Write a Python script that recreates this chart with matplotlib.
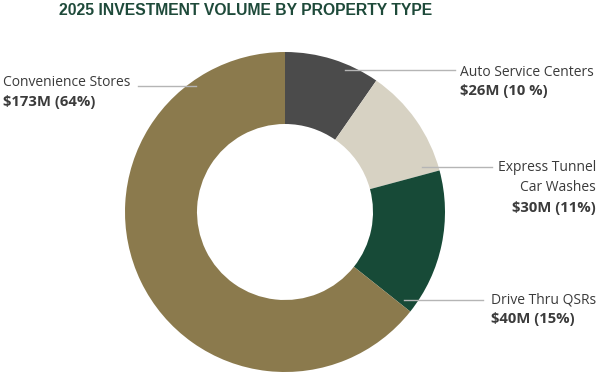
import matplotlib
matplotlib.use("Agg")
import matplotlib.pyplot as plt

# data
categories = ["Auto Service Centers", "Express Tunnel\nCar Washes", "Drive Thru QSRs", "Convenience Stores"]
volumes = [26, 30, 40, 173]          # $M
pct_labels = ["10 %", "11%", "15%", "64%"]
colors = ["#4b4b4b", "#d7d2c3", "#174a37", "#8b7a4d"]

W, H = 602, 372
fig = plt.figure(figsize=(W / 100, H / 100), dpi=100)
ax = fig.add_axes([0, 0, 1, 1])

def py(y):
    return H - y

cx, cy, R = 285, 212, 160
ax.pie(volumes, colors=colors, startangle=90, counterclock=False,
       center=(cx, py(cy)), radius=R, frame=True,
       wedgeprops=dict(width=72, linewidth=0))
ax.set_xlim(0, W)
ax.set_ylim(0, H)
ax.axis("off")

fig.text(246 / W, 1 - 10.5 / H, "2025 INVESTMENT VOLUME BY PROPERTY TYPE",
         ha="center", va="center", fontsize=11.3, fontweight="bold",
         color="#1e4a3a", family="Liberation Sans")

txt_col = "#3b3b3b"
line_col = "#b5b5b5"
# label layout: (line x0, line x1, line y, text x, align, name y, value y)
layout = [
    (345, 455, 70, 460, "left", 72, 91),
    (422, 492, 167, 596, "right", 177.5, 208),
    (404, 483, 300, 491, "left", 300, 319),
    (138, 196, 86, 3, "left", 83, 102),
]

for name, vol, pct, (x0, x1, ly, tx, ha, ny, vy) in zip(categories, volumes, pct_labels, layout):
    ax.plot([x0, x1], [py(ly), py(ly)], color=line_col, lw=1)
    ax.text(tx, py(ny), name, ha=ha, va="center", fontsize=10,
            family="Open Sans", color=txt_col, linespacing=1.4, multialignment=ha)
    ax.text(tx, py(vy), f"${vol}M ({pct})", ha=ha, va="center", fontsize=10.7,
            family="Open Sans", fontweight="bold", color=txt_col)

fig.savefig("out.png", dpi=100)
